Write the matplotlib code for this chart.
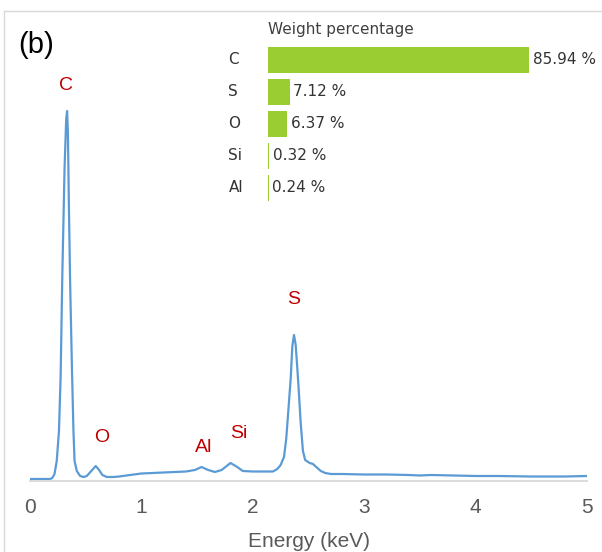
import matplotlib.pyplot as plt
from matplotlib.lines import Line2D

# Spectre EDS (energie en keV, intensite en unites arbitraires)
energie = [0.00, 0.10, 0.18, 0.20, 0.22, 0.24, 0.26, 0.275, 0.29, 0.31, 0.325, 0.333,
           0.34, 0.35, 0.36, 0.375, 0.39, 0.40, 0.42, 0.45, 0.48, 0.51, 0.55, 0.59,
           0.62, 0.65, 0.69, 0.75, 0.80, 0.90, 1.00, 1.10, 1.20, 1.30, 1.40, 1.48,
           1.54, 1.60, 1.66, 1.72, 1.80, 1.86, 1.91, 2.00, 2.10, 2.18, 2.22, 2.25,
           2.28, 2.30, 2.32, 2.34, 2.355, 2.37, 2.385, 2.40, 2.41, 2.43, 2.45, 2.47,
           2.51, 2.54, 2.57, 2.61, 2.65, 2.70, 2.80, 3.00, 3.20, 3.40, 3.50, 3.60,
           3.80, 4.00, 4.20, 4.50, 4.80, 5.00]
intensite = [2, 2, 2, 3, 7, 20, 50, 105, 205, 312, 362, 370,
             350, 270, 200, 120, 50, 20, 10, 5, 4, 5, 10, 15,
             11, 6, 4, 4, 4.5, 6, 7.5, 8, 8.5, 9, 9.5, 11,
             14, 11, 9, 11, 18, 14, 10, 9.5, 9.5, 9.5, 12, 16,
             24, 42, 72, 102, 135, 146, 136, 112, 95, 58, 30, 21,
             18, 17, 14, 10, 8, 7, 7, 6.5, 6.5, 6, 5.5, 6,
             5.5, 5, 5, 4.5, 4.5, 5]

# Etiquettes des pics
elements_pics = ["C", "O", "Al", "Si", "S"]
pos_pics = [0.32, 0.64, 1.56, 1.87, 2.37]
haut_pics = [396, 43, 33, 47, 182]

# Pourcentages massiques
elements = ["C", "S", "O", "Si", "Al"]
pourcentages = [85.94, 7.12, 6.37, 0.32, 0.24]

W, H = 602, 552
fig = plt.figure(figsize=(W / 100, H / 100), dpi=100)

# cadre gris clair
fig.add_artist(Line2D([4 / W, 1], [1 - 11 / H, 1 - 11 / H], color="#D9D9D9", lw=1))
fig.add_artist(Line2D([4 / W, 4 / W], [0, 1 - 11 / H], color="#D9D9D9", lw=1))

ax = fig.add_axes([30 / W, (H - 481) / H, 557 / W, 470 / H])
ax.plot(energie, intensite, color="#5B9BD5", lw=1.6)
ax.set_xlim(0, 5)
ax.set_ylim(0, 470)
for s in ["top", "right", "left"]:
    ax.spines[s].set_visible(False)
ax.spines["bottom"].set_color("#D9D9D9")
ax.spines["bottom"].set_linewidth(1.3)
ax.set_yticks([])
ax.set_xticks([0, 1, 2, 3, 4, 5])
ax.tick_params(axis="x", length=0, pad=12, labelsize=15, labelcolor="#595959")
for lab in ax.get_xticklabels():
    lab.set_family("Liberation Sans")
ax.set_xlabel("Energy (keV)", fontsize=15, color="#595959", family="Liberation Sans", labelpad=11)

for nom, x, y in zip(elements_pics, pos_pics, haut_pics):
    ax.text(x, y, nom, color="#C00000", fontsize=14, family="Liberation Sans",
            ha="center", va="center")

fig.text(18 / W, 1 - 45 / H, "(b)", fontsize=21, family="Liberation Sans", va="center")

# Encadre : barres horizontales
axb = fig.add_axes([268 / W, (H - 204) / H, 304 / W, 160 / H])
axb.barh(range(len(elements)), pourcentages, height=0.8, color="#9ACD32")
axb.set_xlim(0, 100)
axb.set_ylim(len(elements) - 0.5, -0.5)
axb.axis("off")
for i, (nom, v) in enumerate(zip(elements, pourcentages)):
    axb.text(-13, i, nom, fontsize=11, color="#333333", ha="left", va="center")
    axb.text(v + 1.2, i, f"{v:.2f} %", fontsize=11, color="#333333", ha="left", va="center")
axb.text(0, -0.95, "Weight percentage", fontsize=11, color="#404040", ha="left", va="center")

fig.savefig("out.png", dpi=100)
